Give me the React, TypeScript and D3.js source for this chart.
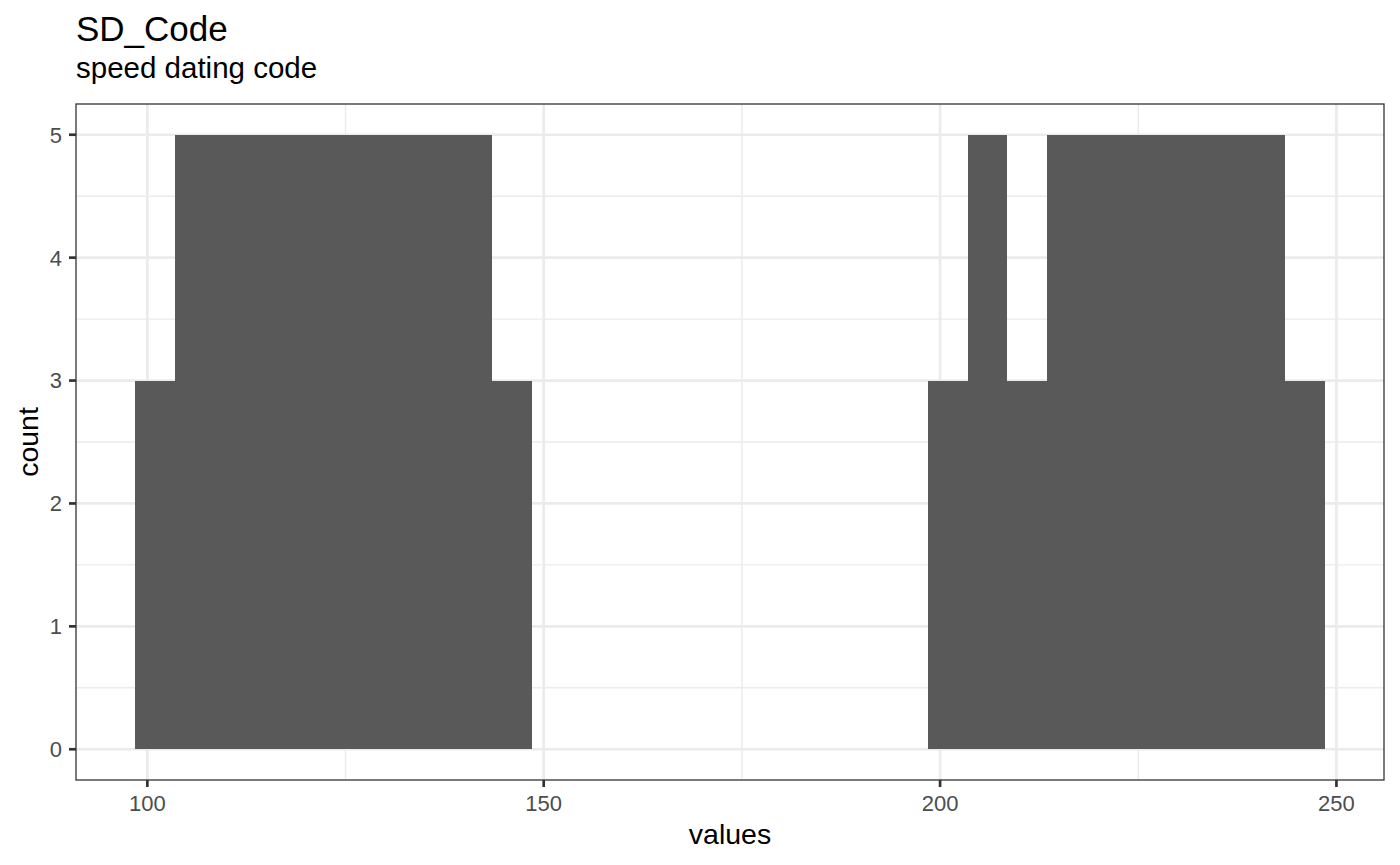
import * as d3 from "d3"

// histogram of SD_Code, binwidth 5
const binStart = 98.5
const binWidth = 5
const counts = [
  3, 5, 5, 5, 5, 5, 5, 5, 5, 3,
  0, 0, 0, 0, 0, 0, 0, 0, 0, 0,
  3, 5, 3, 5, 5, 5, 5, 5, 5, 3,
]
const xTicks = [100, 150, 200, 250]
const xMinor = [125, 175, 225]
const yTicks = [0, 1, 2, 3, 4, 5]
const yMinor = [0.5, 1.5, 2.5, 3.5, 4.5]

const title = "SD_Code"
const subtitle = "speed dating code"
const xLabel = "values"
const yLabel = "count"

const W = 1400
const H = 865
const panel = { left: 76, right: 1384, top: 104, bottom: 780 }
const font = "'Liberation Sans', Arial, Helvetica, sans-serif"

export default function App() {
  const bins = counts.map((c, i) => ({
    x0: binStart + i * binWidth,
    x1: binStart + (i + 1) * binWidth,
    count: c,
  }))

  const xLo = bins[0].x0
  const xHi = bins[bins.length - 1].x1
  const xPad = (xHi - xLo) * 0.05
  const yMax = d3.max(counts) || 1
  const yPad = yMax * 0.05

  const x = d3.scaleLinear()
    .domain([xLo - xPad, xHi + xPad])
    .range([panel.left, panel.right])
  const y = d3.scaleLinear()
    .domain([-yPad, yMax + yPad])
    .range([panel.bottom, panel.top])

  const pw = panel.right - panel.left
  const ph = panel.bottom - panel.top

  return (
    <svg width={W} height={H} style={{ position: "absolute", left: 0, top: 0, background: "#fff" }} fontFamily={font}>
      <rect x={0} y={0} width={W} height={H} fill="#fff" />

      <text x={panel.left} y={41} fontSize={35} fill="#000">{title}</text>
      <text x={panel.left} y={78} fontSize={29.5} fill="#000">{subtitle}</text>

      {/* grid */}
      <g>
        {xMinor.map(v => (
          <line key={"xm" + v} x1={x(v)} x2={x(v)} y1={panel.top} y2={panel.bottom} stroke="#EBEBEB" strokeWidth={1.4} />
        ))}
        {yMinor.map(v => (
          <line key={"ym" + v} x1={panel.left} x2={panel.right} y1={y(v)} y2={y(v)} stroke="#EBEBEB" strokeWidth={1.4} />
        ))}
        {xTicks.map(v => (
          <line key={"xg" + v} x1={x(v)} x2={x(v)} y1={panel.top} y2={panel.bottom} stroke="#EBEBEB" strokeWidth={2.7} />
        ))}
        {yTicks.map(v => (
          <line key={"yg" + v} x1={panel.left} x2={panel.right} y1={y(v)} y2={y(v)} stroke="#EBEBEB" strokeWidth={2.7} />
        ))}
      </g>

      {/* bars */}
      <g shapeRendering="crispEdges">
        {bins.filter(b => b.count > 0).map((b, i) => (
          <rect
            key={i}
            x={x(b.x0)}
            y={y(b.count)}
            width={x(b.x1) - x(b.x0)}
            height={y(0) - y(b.count)}
            fill="#595959"
          />
        ))}
      </g>

      <rect x={panel.left} y={panel.top} width={pw} height={ph} fill="none" stroke="#333333" strokeWidth={1.3} />

      {/* axes */}
      {xTicks.map(v => (
        <g key={"xt" + v}>
          <line x1={x(v)} x2={x(v)} y1={panel.bottom} y2={panel.bottom + 7} stroke="#333333" strokeWidth={2.7} />
          <text x={x(v)} y={811} fontSize={22} fill="#4D4D4D" textAnchor="middle">{v}</text>
        </g>
      ))}
      {yTicks.map(v => (
        <g key={"yt" + v}>
          <line x1={panel.left - 7} x2={panel.left} y1={y(v)} y2={y(v)} stroke="#333333" strokeWidth={2.7} />
          <text x={62} y={y(v)} dy="0.36em" fontSize={22} fill="#4D4D4D" textAnchor="end">{v}</text>
        </g>
      ))}

      <text x={(panel.left + panel.right) / 2} y={844} fontSize={28.5} fill="#000" textAnchor="middle">{xLabel}</text>
      <text
        transform={`translate(37.5,${(panel.top + panel.bottom) / 2}) rotate(-90)`}
        fontSize={28.5}
        fill="#000"
        textAnchor="middle"
      >{yLabel}</text>
    </svg>
  )
}
